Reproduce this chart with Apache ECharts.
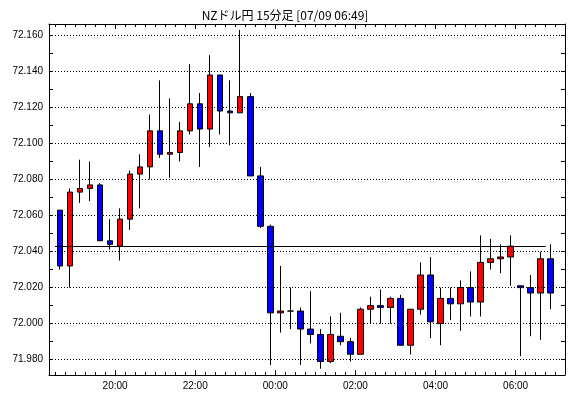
<!DOCTYPE html>
<html>
<head>
<meta charset="utf-8">
<script src="https://cdn.jsdelivr.net/npm/echarts@6/dist/echarts.min.js"></script>
<style>
html,body{margin:0;padding:0;background:#fff;}
#chart{width:570px;height:398px;}
</style>
</head>
<body>
<div id="chart"></div>
<script>
// 15分足 (開始時刻)
var times = ['18:30','18:45','19:00','19:15','19:30','19:45','20:00','20:15','20:30','20:45',
	'21:00','21:15','21:30','21:45','22:00','22:15','22:30','22:45','23:00','23:15',
	'23:30','23:45','00:00','00:15','00:30','00:45','01:00','01:15','01:30','01:45',
	'02:00','02:15','02:30','02:45','03:00','03:15','03:30','03:45','04:00','04:15',
	'04:30','04:45','05:00','05:15','05:30','05:45','06:00','06:15','06:30','06:45'];
var opens = [72.063,72.032,72.073,72.075,72.077,72.046,72.043,72.058,72.083,72.087,
	72.107,72.094,72.095,72.107,72.122,72.108,72.138,72.118,72.117,72.126,
	72.082,72.054,72.006,72.007,72.007,71.997,71.994,71.979,71.993,71.990,
	71.983,72.008,72.010,72.009,72.014,71.988,72.008,72.027,72.000,72.014,
	72.011,72.020,72.012,72.034,72.036,72.037,72.021,72.020,72.017,72.036];
var closes = [72.032,72.073,72.075,72.077,72.046,72.044,72.058,72.083,72.087,72.107,
	72.094,72.095,72.107,72.122,72.108,72.138,72.118,72.117,72.126,72.082,
	72.054,72.006,72.007,72.007,71.997,71.994,71.979,71.994,71.990,71.983,
	72.008,72.010,72.009,72.014,71.988,72.008,72.027,72.001,72.014,72.011,
	72.020,72.012,72.034,72.036,72.037,72.043,72.020,72.017,72.036,72.017];
var lows = [72.030,72.020,72.067,72.068,72.046,72.041,72.035,72.052,72.064,72.080,
	72.092,72.081,72.090,72.105,72.087,72.098,72.105,72.099,72.117,72.082,
	72.053,71.977,71.995,71.997,71.977,71.989,71.975,71.978,71.988,71.979,
	71.983,72.000,72.000,72.000,71.988,71.983,72.005,71.992,71.988,72.002,
	71.996,72.004,72.004,72.030,72.028,72.021,71.982,71.993,71.991,72.008];
var highs = [72.063,72.075,72.091,72.090,72.078,72.058,72.064,72.085,72.094,72.116,
	72.135,72.125,72.112,72.144,72.128,72.149,72.138,72.135,72.163,72.128,
	72.087,72.055,72.032,72.020,72.009,72.018,71.997,72.004,72.006,71.992,
	72.009,72.015,72.019,72.015,72.016,72.008,72.034,72.037,72.020,72.020,
	72.024,72.029,72.049,72.047,72.044,72.049,72.021,72.027,72.040,72.044];

var yLabels = [71.98,72.00,72.02,72.04,72.06,72.08,72.10,72.12,72.14,72.16];
var yTicks = [71.98,71.99,72.00,72.01,72.02,72.03,72.04,72.05,72.06,72.07,
	72.08,72.09,72.10,72.11,72.12,72.13,72.14,72.15,72.16];
var xLabels = ['20:00','22:00','00:00','02:00','04:00','06:00'];
var lastPrice = {from:'18:30', to:'06:45', value:72.043};

// 時刻文字列 -> 18:00 からの経過分 (18時以降は前日)
function toMin(s){
	var h = parseInt(s.substring(0,2),10);
	var m = parseInt(s.substring(3,5),10);
	if(h < 12){ h += 24; }
	return (h-18)*60 + m;
}
var STEP = 15;
var xMin = toMin('18:21');
var xMax = toMin('07:14');

var candles = [];
var minorTicks = [];
for(var i=0;i<times.length;i++){
	var t = toMin(times[i]);
	candles.push([t+STEP/2, opens[i], closes[i], lows[i], highs[i]]);
	minorTicks.push(t);
}
minorTicks.push(toMin(times[times.length-1])+STEP);
var majorTicks = xLabels.map(toMin);

function hhmm(v){
	var total = Math.round(v) + 18*60;
	var h = Math.floor(total/60) % 24, m = total % 60;
	return (h<10?'0':'')+h+':'+(m<10?'0':'')+m;
}

var gridBox = {left:49, right:5, top:24, bottom:23};
var labelFont = {color:'#000', fontSize:10, fontFamily:'Liberation Sans'};
var black = {lineStyle:{color:'#000', width:1}};

var gridLines = yLabels.map(function(v){
	return {yAxis:v, lineStyle:{type:[1,2], color:'#000', width:1}};
});
gridLines.push([
	{coord:[toMin(lastPrice.from), lastPrice.value], lineStyle:{type:'solid', color:'#000', width:1}},
	{coord:[toMin(lastPrice.to), lastPrice.value]}
]);

var option = {
	animation: false,
	backgroundColor: '#fff',
	title: {
		text: 'NZドル円 15分足 [07/09 06:49]',
		left: 'center',
		top: 4,
		textStyle: {color:'#000', fontSize:12, fontWeight:'normal', fontFamily:'Noto Sans CJK JP'}
	},
	grid: [
		Object.assign({}, gridBox),
		Object.assign({}, gridBox)
	],
	xAxis: [
		{
			type:'value', gridIndex:0, position:'bottom', min:xMin, max:xMax,
			axisLine: black,
			axisTick: {show:true, inside:true, length:5, customValues:majorTicks, lineStyle:{color:'#000'}},
			axisLabel: Object.assign({customValues:majorTicks, margin:6, formatter:hhmm}, labelFont),
			splitLine: {show:false}
		},
		{
			type:'value', gridIndex:0, position:'top', min:xMin, max:xMax,
			axisLine: black,
			axisTick: {show:true, inside:true, length:5, customValues:majorTicks, lineStyle:{color:'#000'}},
			axisLabel: {show:false},
			splitLine: {show:false}
		},
		{
			type:'value', gridIndex:1, position:'bottom', min:xMin, max:xMax,
			axisLine: {show:false},
			axisTick: {show:true, inside:true, length:3, customValues:minorTicks, lineStyle:{color:'#000'}},
			axisLabel: {show:false},
			splitLine: {show:false}
		},
		{
			type:'value', gridIndex:1, position:'top', min:xMin, max:xMax,
			axisLine: {show:false},
			axisTick: {show:true, inside:true, length:3, customValues:minorTicks, lineStyle:{color:'#000'}},
			axisLabel: {show:false},
			splitLine: {show:false}
		}
	],
	yAxis: [
		{
			type:'value', gridIndex:0, position:'left', min:71.9715, max:72.1663,
			axisLine: Object.assign({show:true}, black),
			axisTick: {show:true, inside:true, length:4, customValues:yTicks, lineStyle:{color:'#000'}},
			axisLabel: Object.assign({customValues:yLabels, margin:6, formatter:function(v){ return v.toFixed(3); }}, labelFont),
			splitLine: {show:false}
		},
		{
			type:'value', gridIndex:0, position:'right', min:71.9715, max:72.1663,
			axisLine: Object.assign({show:true}, black),
			axisTick: {show:true, inside:true, length:4, customValues:yTicks, lineStyle:{color:'#000'}},
			axisLabel: {show:false},
			splitLine: {show:false}
		},
		{
			type:'value', gridIndex:1, min:71.9715, max:72.1663, show:false
		}
	],
	series: [{
		type: 'candlestick',
		xAxisIndex: 0,
		yAxisIndex: 0,
		barWidth: 6,
		data: candles,
		itemStyle: {
			color: '#ff0000',
			color0: '#0000ff',
			borderColor: '#000',
			borderColor0: '#000',
			borderColorDoji: '#000',
			borderWidth: 1
		},
		markLine: {
			silent: true,
			symbol: ['none','none'],
			label: {show:false},
			data: gridLines
		}
	}]
};

var myChart = echarts.init(document.getElementById('chart'));
myChart.setOption(option);
</script>
</body>
</html>
